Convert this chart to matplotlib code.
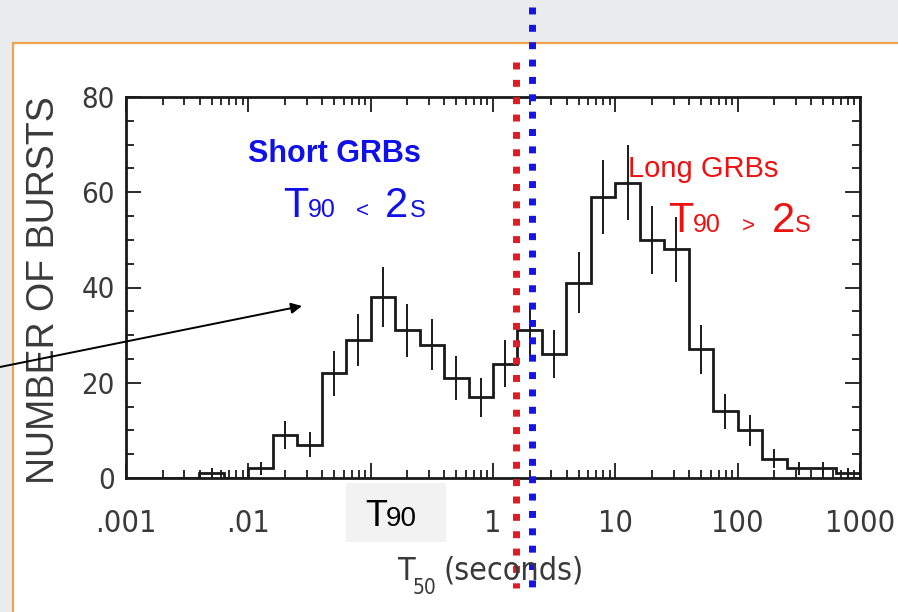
import numpy as np
import matplotlib
matplotlib.use("Agg")
import matplotlib.pyplot as plt
from matplotlib.patches import Rectangle, FancyArrowPatch
from matplotlib.ticker import FixedLocator, FixedFormatter, MultipleLocator
from matplotlib.transforms import blended_transform_factory

# histogram of burst durations, bins of 0.2 in log10(T50)
log_edges = [-3.0, -2.8, -2.6, -2.4, -2.2, -2.0, -1.8, -1.6, -1.4, -1.2, -1.0,
             -0.8, -0.6, -0.4, -0.2, 0.0, 0.2, 0.4, 0.6, 0.8, 1.0,
             1.2, 1.4, 1.6, 1.8, 2.0, 2.2, 2.4, 2.6, 2.8, 3.0]
counts = [0, 0, 0, 1, 0, 2, 9, 7, 22, 29, 38, 31, 28, 21, 17,
          24, 31, 26, 41, 59, 62, 50, 48, 27, 14, 10, 4, 2, 2, 1]
errors = [0, 0, 0, 1, 0, 1.4, 3, 2.6, 4.7, 5.4, 6.2, 5.6, 5.3, 4.6, 4.1,
          4.9, 5.6, 5.1, 6.4, 7.7, 7.9, 7.1, 6.9, 5.2, 3.7, 3.2, 2, 1.4, 1.4, 1]

x_ticks = [0.001, 0.01, 0.1, 1, 10, 100, 1000]
x_ticklabels = [".001", ".01", "", "1", "10", "100", "1000"]  # .1 sits under the T90 box
y_ticks = [0, 20, 40, 60, 80]

red_cut = 1.53   # dotted red marker (s)
blue_cut = 2.1   # dotted blue marker (s)

W, H = 898, 612
NARROW = ["DejaVu Sans"]
ARIAL = ["Liberation Sans", "DejaVu Sans"]
GREY = "#3a3a3a"
RED = "#ee1111"
BLUE = "#1010e8"


def fx(x):
    return x / W


def fy(y):
    return 1 - y / H


fig = plt.figure(figsize=(W / 100, H / 100), dpi=100)
fig.patch.set_facecolor("#e9edee")

# white slide box with orange border
fig.patches.append(Rectangle((fx(13), -0.1), 1.2, fy(43) + 0.1,
                             transform=fig.transFigure, facecolor="white",
                             edgecolor="#f2a14e", linewidth=1.6, zorder=-10))

ax = fig.add_axes([fx(126), fy(478), fx(860) - fx(126), fy(97) - fy(478)])
ax.set_facecolor("white")

edges = 10 ** np.array(log_edges)
centers = 10 ** ((np.array(log_edges[:-1]) + np.array(log_edges[1:])) / 2)
ax.stairs(counts, edges, color="#1a1a1a", linewidth=2.0)
ax.errorbar(centers, counts, yerr=errors, fmt="none", ecolor="#1a1a1a",
            elinewidth=1.4, capsize=0)

ax.set_xscale("log")
ax.set_xlim(1e-3, 1e3)
ax.set_ylim(0, 80)
ax.xaxis.set_major_locator(FixedLocator(x_ticks))
ax.xaxis.set_major_formatter(FixedFormatter(x_ticklabels))
ax.yaxis.set_major_locator(FixedLocator(y_ticks))
ax.yaxis.set_minor_locator(MultipleLocator(5))

ax.tick_params(which="both", direction="in", top=True, right=True,
               color="#1a1a1a", width=1.3)
ax.tick_params(which="major", length=11)
ax.tick_params(which="minor", length=6)
ax.tick_params(axis="x", which="major", pad=22, labelsize=22, labelcolor=GREY)
ax.tick_params(axis="y", which="major", pad=8, labelsize=21, labelcolor=GREY)
for lab in ax.get_xticklabels() + ax.get_yticklabels():
    lab.set_family(NARROW)
    lab.set_fontstretch("condensed")
for s in ax.spines.values():
    s.set_linewidth(2.0)
    s.set_color("#1a1a1a")

# axis titles
fig.text(fx(44), fy(290), "NUMBER OF BURSTS", rotation=90, ha="center",
         va="center", fontsize=27, color=GREY, family=ARIAL)
fig.text(fx(398), fy(580), "T", fontsize=23, color=GREY, family=NARROW,
         fontstretch="condensed")
fig.text(fx(413), fy(594), "50", fontsize=15, color=GREY, family=NARROW,
         fontstretch="condensed")
fig.text(fx(443), fy(580), "(seconds)", fontsize=23, color=GREY,
         family=NARROW, fontstretch="condensed")

# dotted marker lines spanning past the axes
trans = blended_transform_factory(ax.transData, fig.transFigure)
ax.plot([red_cut, red_cut], [fy(62), fy(588)], transform=trans, clip_on=False,
        color="#e01b24", linewidth=5, linestyle=(0, (1, 1.5)), zorder=5)
ax.plot([blue_cut, blue_cut], [fy(7), fy(595)], transform=trans, clip_on=False,
        color="#1414e6", linewidth=5, linestyle=(0, (1, 1.5)), zorder=5)

# short GRB label
fig.text(fx(248), fy(162), "Short GRBs", fontsize=22, fontweight="bold",
         color=BLUE, family=ARIAL)
fig.text(fx(283), fy(217), "T", fontsize=30, color=BLUE, family=ARIAL)
fig.text(fx(308), fy(217), "90", fontsize=18, color=BLUE, family=ARIAL)
fig.text(fx(356), fy(217), "<", fontsize=16, color=BLUE, family=ARIAL)
fig.text(fx(385), fy(217), "2", fontsize=30, color=BLUE, family=ARIAL)
fig.text(fx(410), fy(217), "S", fontsize=17, color=BLUE, family=ARIAL)

# long GRB label
fig.text(fx(628), fy(177), "Long GRBs", fontsize=21, color=RED, family=ARIAL)
fig.text(fx(668), fy(232), "T", fontsize=30, color=RED, family=ARIAL)
fig.text(fx(693), fy(232), "90", fontsize=18, color=RED, family=ARIAL)
fig.text(fx(742), fy(232), ">", fontsize=16, color=RED, family=ARIAL)
fig.text(fx(772), fy(232), "2", fontsize=30, color=RED, family=ARIAL)
fig.text(fx(795), fy(232), "S", fontsize=17, color=RED, family=ARIAL)

# grey T90 box
fig.patches.append(Rectangle((fx(346), fy(542)), fx(446) - fx(346),
                             fy(483) - fy(542), transform=fig.transFigure,
                             facecolor="#f2f2f2", edgecolor="none", zorder=2))
fig.text(fx(365), fy(526), "T", fontsize=26, color="black", family=ARIAL, zorder=3)
fig.text(fx(386), fy(526), "90", fontsize=20, color="black", family=ARIAL, zorder=3)

# arrow from the left edge
fig.add_artist(FancyArrowPatch(
    (fx(0), fy(367)), (fx(302), fy(306)), transform=fig.transFigure,
    arrowstyle="-|>", mutation_scale=16, color="black", linewidth=1.4,
    shrinkA=0, shrinkB=0, zorder=6))

fig.savefig("out.png", dpi=100, facecolor=fig.get_facecolor())
